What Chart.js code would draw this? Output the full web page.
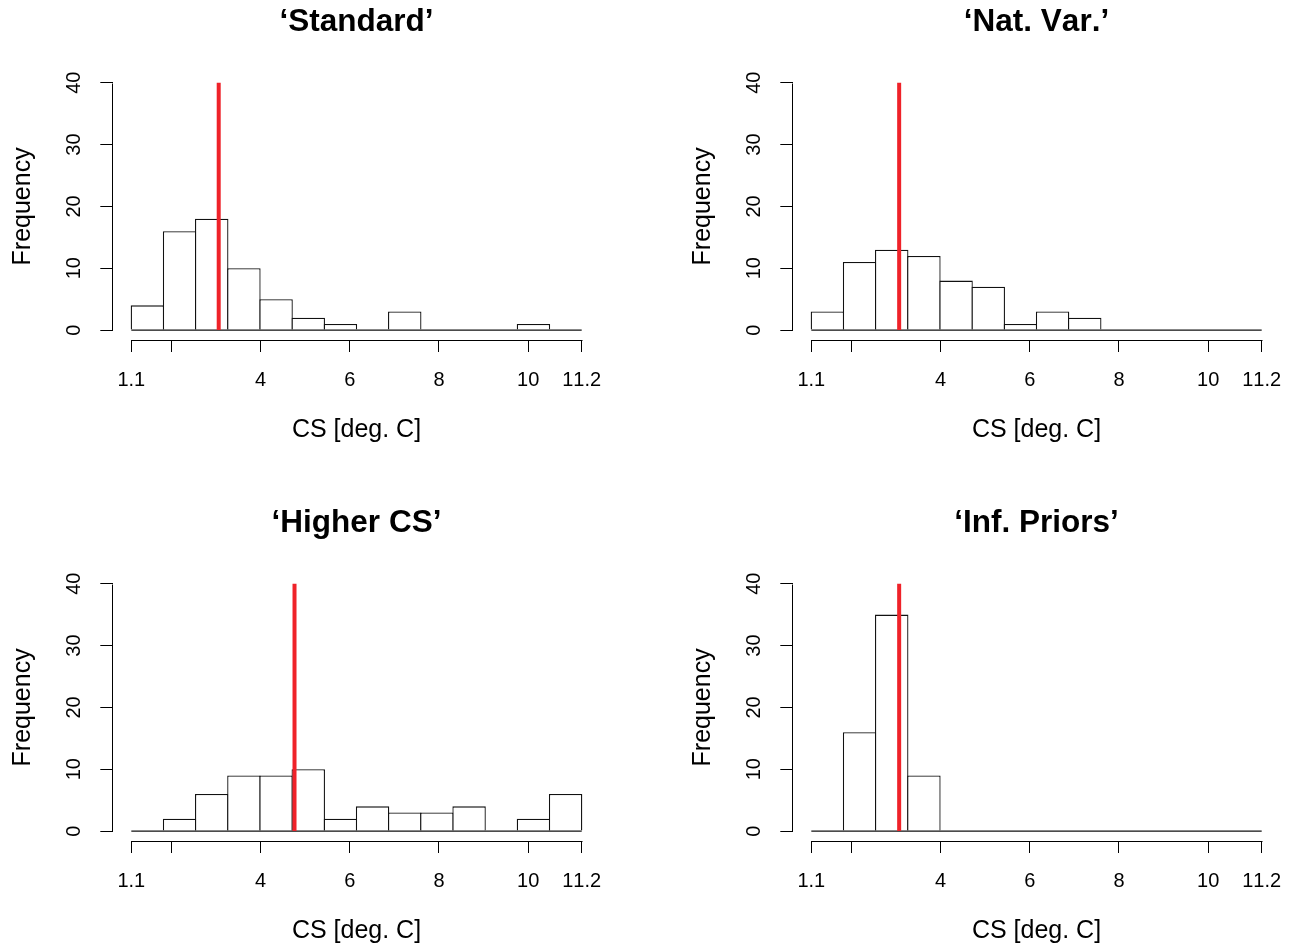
<!DOCTYPE html>
<html>
<head>
<meta charset="utf-8">
<script src="https://cdn.jsdelivr.net/npm/chart.js@4/dist/chart.umd.min.js"></script>
<style>
  body { margin: 0; background: #fff; }
  .panel { position: absolute; }
</style>
</head>
<body>
<div class="panel" style="left:0px;top:0px"><canvas id="c1" width="617" height="449"></canvas></div>
<div class="panel" style="left:680px;top:0px"><canvas id="c2" width="617" height="449"></canvas></div>
<div class="panel" style="left:0px;top:501px"><canvas id="c3" width="617" height="449"></canvas></div>
<div class="panel" style="left:680px;top:501px"><canvas id="c4" width="617" height="449"></canvas></div>
<script>
// bin edges (14 bins from 1.1 to 11.2)
const breaks = [1.1, 1.821, 2.543, 3.264, 3.986, 4.707, 5.429, 6.150, 6.871, 7.593, 8.314, 9.036, 9.757, 10.479, 11.2];
const xTicks = [1.1, 2, 4, 6, 8, 10, 11.2];
const yTicks = [0, 10, 20, 30, 40];

const titles = ['\u2018Standard\u2019', '\u2018Nat. Var.\u2019', '\u2018Higher CS\u2019', '\u2018Inf. Priors\u2019'];

// counts per bin
const standard  = [4, 16, 18, 10, 5, 2, 1, 0, 3, 0, 0, 0, 1, 0];
const natVar    = [3, 11, 13, 12, 8, 7, 1, 3, 2, 0, 0, 0, 0, 0];
const higherCS  = [0, 2, 6, 9, 9, 10, 2, 4, 3, 3, 4, 0, 2, 6];
const infPriors = [0, 16, 35, 9, 0, 0, 0, 0, 0, 0, 0, 0, 0, 0];

// position of the red vertical line in each panel
const redLines = [3.06, 3.07, 4.76, 3.07];

Chart.defaults.font.family = '"Liberation Sans", Arial, Helvetica, sans-serif';
Chart.defaults.color = '#000';

// R does no kerning
const noKern = {
  id: 'noKern',
  beforeDraw(chart) { chart.ctx.fontKerning = 'none'; }
};

// R style axis lines: only from first to last tick
const rAxes = {
  id: 'rAxes',
  afterDraw(chart) {
    const { ctx, chartArea, scales: { x, y } } = chart;
    ctx.save();
    ctx.strokeStyle = '#000';
    ctx.lineWidth = 1;
    ctx.beginPath();
    const by = Math.round(chartArea.bottom) + 0.5;
    ctx.moveTo(Math.round(x.getPixelForValue(xTicks[0])) + 0.5, by);
    ctx.lineTo(Math.round(x.getPixelForValue(xTicks[xTicks.length - 1])) + 0.5, by);
    const lx = Math.round(chartArea.left) - 0.5;
    ctx.moveTo(lx, Math.round(y.getPixelForValue(yTicks[0])) + 0.5);
    ctx.lineTo(lx, Math.round(y.getPixelForValue(yTicks[yTicks.length - 1])) + 0.5);
    ctx.stroke();
    ctx.restore();
  }
};

function makeHist(id, title, counts, red) {
  const centers = counts.map((c, i) => (breaks[i] + breaks[i + 1]) / 2);
  new Chart(document.getElementById(id), {
    type: 'bar',
    data: {
      datasets: [
        {
          type: 'line',
          data: [{ x: red, y: 0 }, { x: red, y: 40 }],
          borderColor: '#ef2229',
          borderWidth: 4,
          pointRadius: 0,
          order: 0
        },
        {
          type: 'line',
          data: [{ x: breaks[0], y: 0 }, { x: breaks[breaks.length - 1], y: 0 }],
          borderColor: '#111',
          borderWidth: 1.3,
          pointRadius: 0,
          order: 1
        },
        {
          type: 'bar',
          data: centers.map((c, i) => ({ x: c, y: counts[i] })),
          backgroundColor: '#fff',
          borderColor: '#111',
          borderWidth: 1.3,
          borderSkipped: 'start',
          inflateAmount: 0,
          categoryPercentage: 1,
          barPercentage: 1.04,
          order: 2
        }
      ]
    },
    options: {
      responsive: false,
      animation: false,
      devicePixelRatio: 1,
      layout: { padding: { left: 0, right: 17.3, top: 0, bottom: 0 } },
      plugins: {
        legend: { display: false },
        tooltip: { enabled: false },
        title: {
          display: true,
          text: title,
          fullSize: false,
          color: '#000',
          font: { size: 31.5, weight: 'bold' },
          padding: { top: 3, bottom: 32 }
        }
      },
      scales: {
        x: {
          type: 'linear',
          min: 0.696,
          max: 11.604,
          offset: false,
          grid: { display: true, offset: false, drawOnChartArea: false, drawTicks: true, tickLength: 12, color: '#000' },
          border: { display: false },
          afterBuildTicks: (scale) => { scale.ticks = xTicks.map(v => ({ value: v })); },
          afterFit: (scale) => { scale.height = 109; scale.paddingLeft = 0; scale.paddingRight = 0; },
          ticks: {
            autoSkip: false,
            maxRotation: 0,
            padding: 16.7,
            font: { size: 20 },
            color: '#000',
            callback: (v) => v === 2 ? '' : String(v)
          },
          title: {
            display: true,
            text: 'CS [deg. C]',
            color: '#000',
            font: { size: 25 },
            padding: { top: 0, bottom: 3.9 }
          }
        },
        y: {
          min: -1.6,
          max: 41.6,
          grid: { display: true, drawOnChartArea: false, drawTicks: true, tickLength: 13, color: '#000' },
          border: { display: false },
          afterBuildTicks: (scale) => { scale.ticks = yTicks.map(v => ({ value: v })); },
          afterFit: (scale) => { scale.width = 113.3; scale.paddingTop = 0; scale.paddingBottom = 0; },
          ticks: {
            autoSkip: false,
            minRotation: 90,
            maxRotation: 90,
            crossAlign: 'center',
            padding: 14.8,
            font: { size: 20 },
            color: '#000',
            callback: (v) => String(v)
          },
          title: {
            display: true,
            text: 'Frequency',
            color: '#000',
            font: { size: 25 },
            padding: { top: 8.3, bottom: 0 }
          }
        }
      }
    },
    plugins: [noKern, rAxes]
  });
}

makeHist('c1', titles[0], standard, redLines[0]);
makeHist('c2', titles[1], natVar, redLines[1]);
makeHist('c3', titles[2], higherCS, redLines[2]);
makeHist('c4', titles[3], infPriors, redLines[3]);
</script>
</body>
</html>
